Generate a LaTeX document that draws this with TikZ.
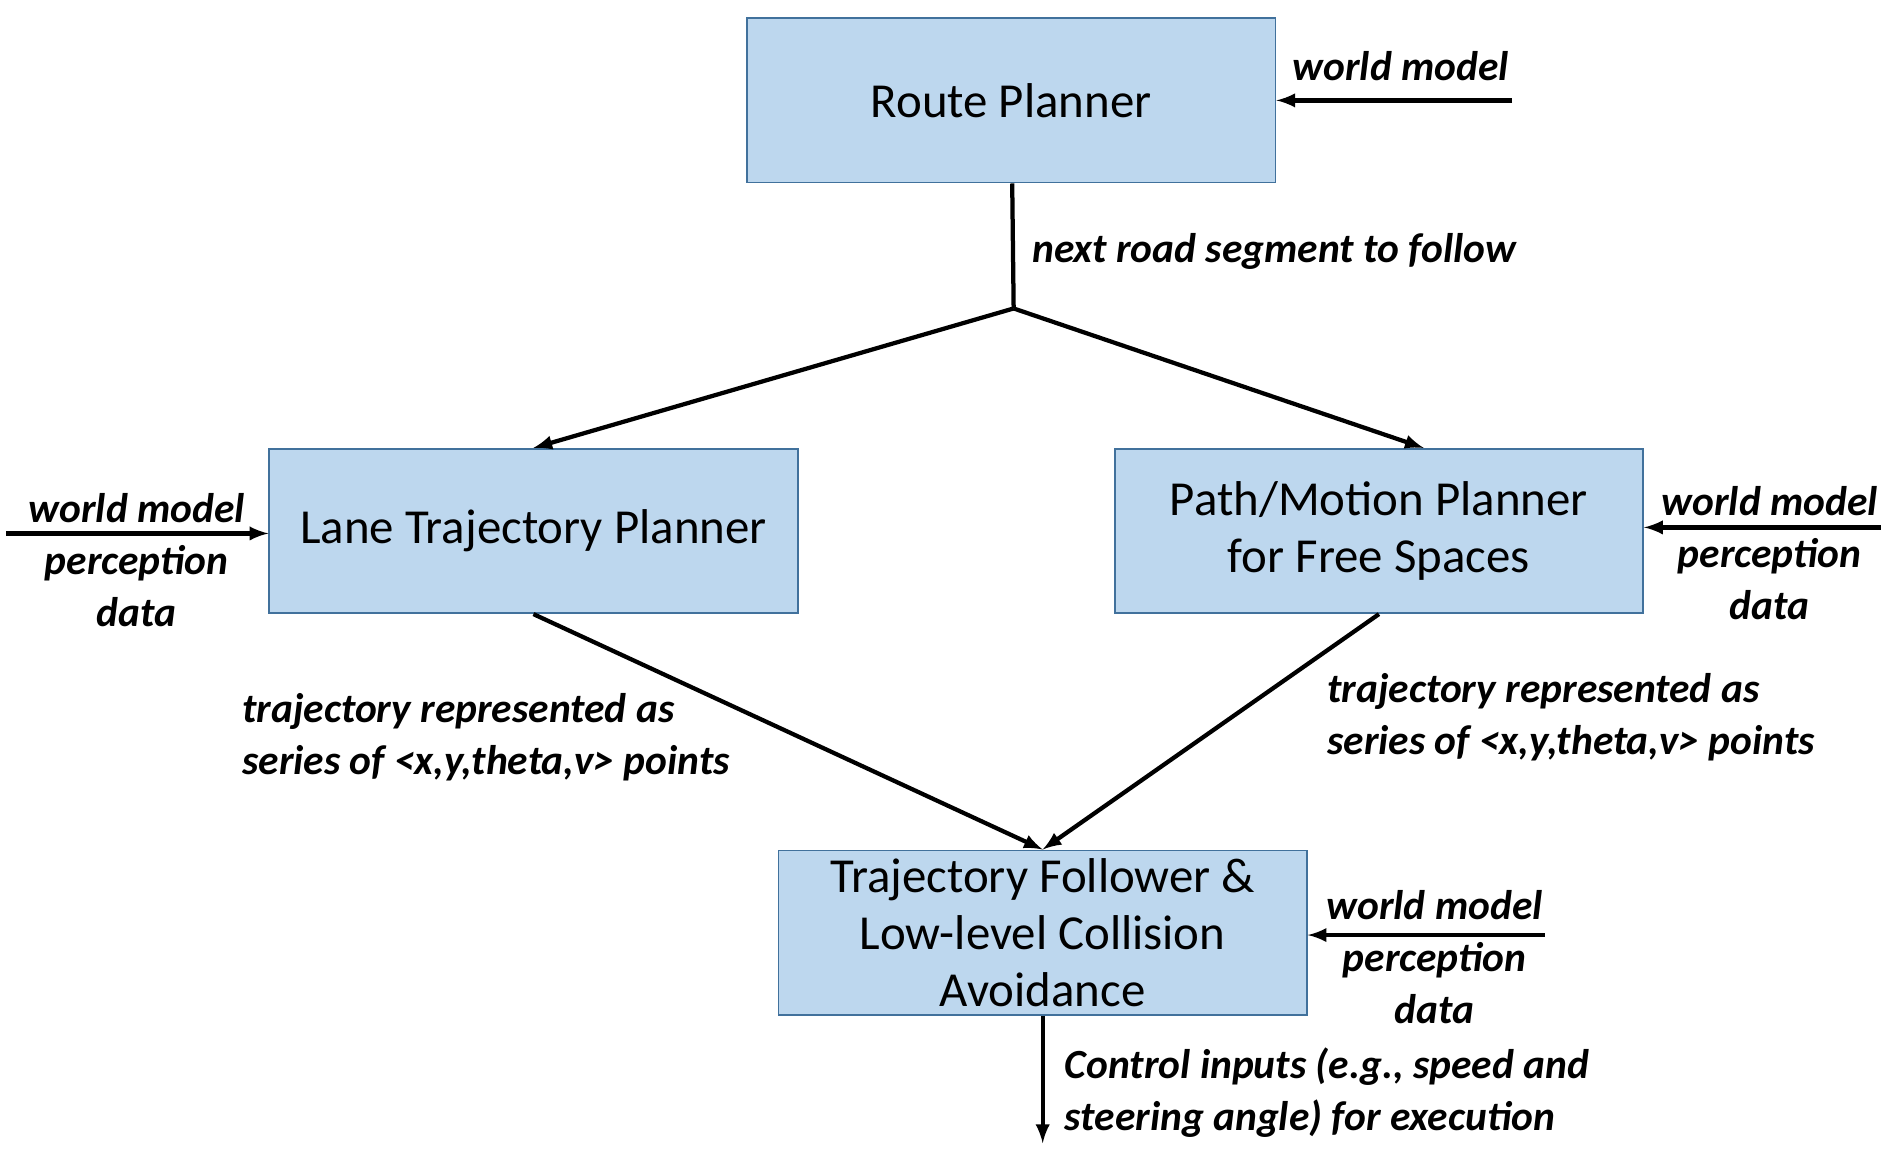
\documentclass[tikz,border=0pt]{standalone}
\usepackage{fontspec}
\setmainfont{Carlito}
\usetikzlibrary{arrows,positioning}
\definecolor{Box}{RGB}{189,215,238}
\definecolor{BoxLine}{RGB}{65,113,156}
\tikzset{block/.style ={
        rectangle,
        fill=Box,
        draw=BoxLine,
        thick,
        minimum width=8.74cm,
        minimum height=2.72cm,
        align=center,
        font=\fontsize{23}{27}\selectfont
    },
    txt/.style ={
        font=\fontsize{19.5}{24.5}\selectfont\bfseries\itshape,
        align=left,
        inner sep=0
    },
    side/.style ={
        font=\fontsize{19.5}{24.5}\selectfont\bfseries\itshape,
        align=center,
        inner sep=0
    },
    a/.style ={
        draw,
        line width=2pt,
        -latex
    },
    l/.style ={
        draw,
        line width=2pt
    }}
\begin{document}
\begin{tikzpicture}[x=0.02cm,y=-0.02cm]
    \useasboundingbox (0,0) rectangle (1560,950);
    \node (route)[block] at (836,83) {Route Planner};
    \node (lane)[block] at (441,439) {Lane Trajectory Planner};
    \node (path)[block] at (1140,439) {Path/Motion Planner\\for Free Spaces};
    \node (follow)[block] at (862,771) {Trajectory Follower \&\\Low-level Collision\\Avoidance};

    \coordinate (fork) at (838,255);
    \coordinate (in1) at (1250,83);
    \coordinate (in2) at (5,441);
    \coordinate (in3) at (1555,436);
    \coordinate (in4) at (1277,773);
    \coordinate (out) at (862,945);

    \node (segtxt)[txt,anchor=west] at (853,208) {next road segment to follow};
    \node (wm1)[side] at (1158,55) {world model};
    \node (wm2)[side] at (113,463) {world model\\perception\\data};
    \node (wm3)[side] at (1463,457) {world model\\perception\\data};
    \node (wm4)[side] at (1186,791) {world model\\perception\\data};
    \node (tr1)[txt,anchor=north west] at (200,573) {trajectory represented as\\series of <x,y,theta,v> points};
    \node (tr2)[txt,anchor=north west] at (1097,556) {trajectory represented as\\series of <x,y,theta,v> points};
    \node (ctl)[txt,anchor=north west] at (880,866) {Control inputs (e.g., speed and\\steering angle) for execution};

    \draw[l] (route) -- (fork);
    \draw[a] (fork) -- (lane.north);
    \draw[a] (fork) -- ([xshift=0.74cm]path.north);
    \draw[a] (lane.south) -- (follow.north);
    \draw[a] (path.south) -- (follow.north);
    \draw[a] (follow) -- (out);

    \draw[a] (in1) -- (route.east |- in1);
    \draw[a] (in2) -- (lane.west |- in2);
    \draw[a] (in3) -- (path.east |- in3);
    \draw[a] (in4) -- (follow.east |- in4);
\end{tikzpicture}
\end{document}
